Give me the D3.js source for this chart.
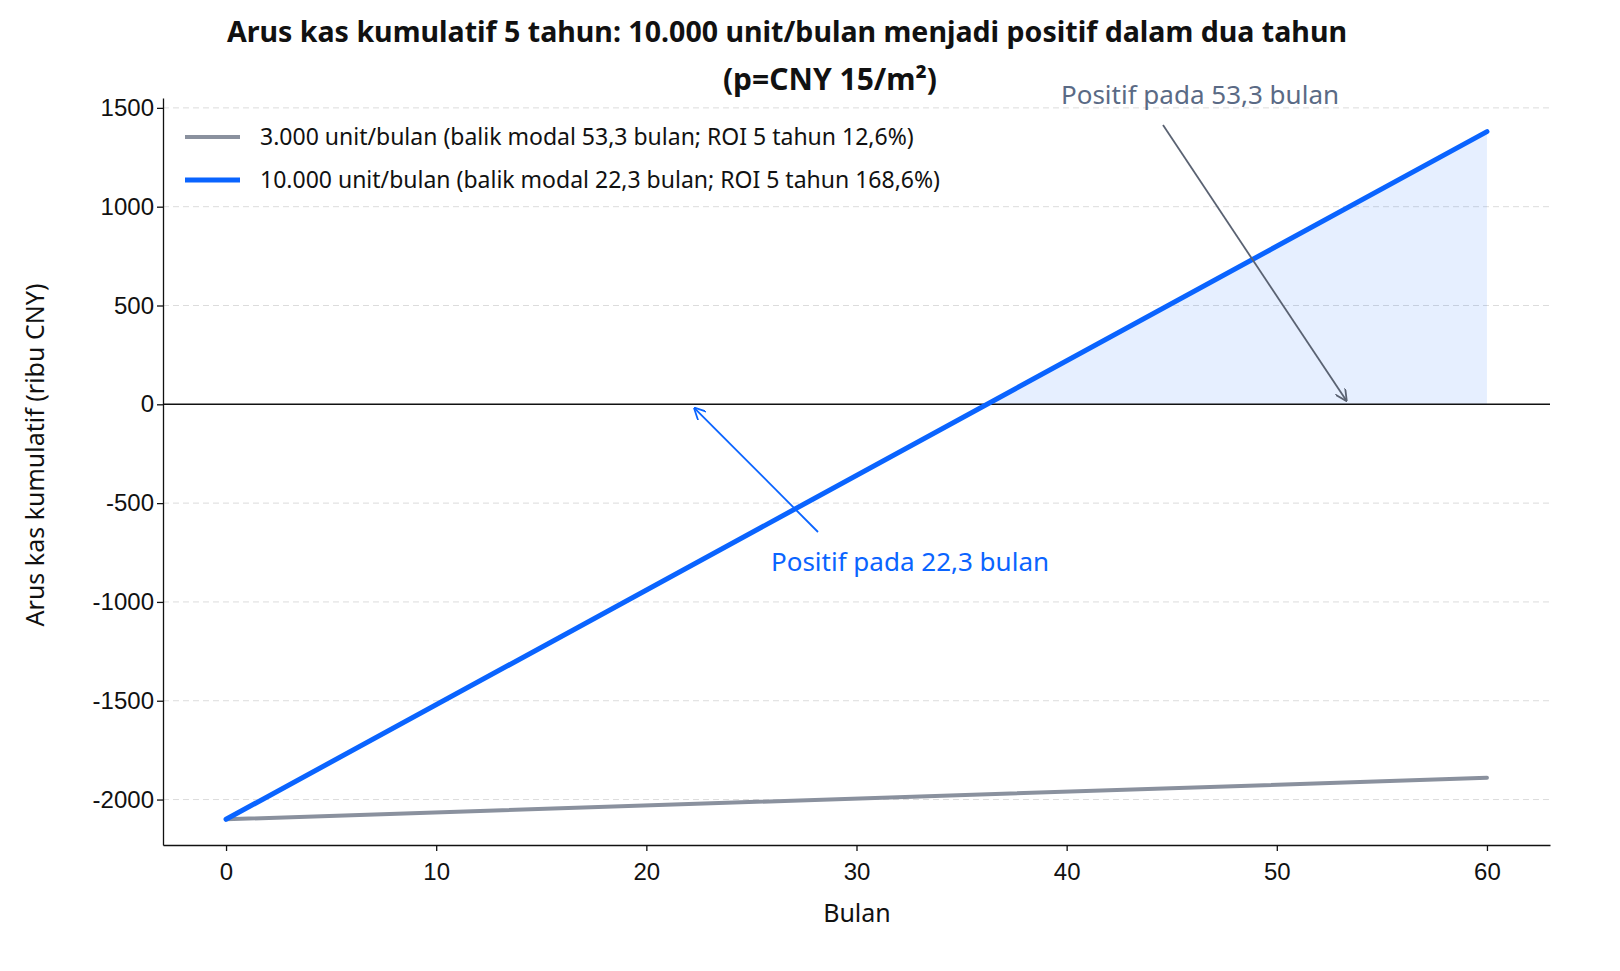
<!DOCTYPE html>
<html><head><meta charset="utf-8">
<script src="https://cdn.jsdelivr.net/npm/d3@7/dist/d3.min.js"></script>
<style>body{margin:0;background:#fff}svg{font-family:"Noto Sans","Open Sans",sans-serif}</style>
</head><body><svg id="c" width="1620" height="971"></svg>
<script>
const months = [0, 60];
const series3000 = [-2100, -1890];
const series10000 = [-2100, 1380];
const yTicks = [-2000, -1500, -1000, -500, 0, 500, 1000, 1500];
const xTicks = [0, 10, 20, 30, 40, 50, 60];
const labels = ["3.000 unit/bulan (balik modal 53,3 bulan; ROI 5 tahun 12,6%)", "10.000 unit/bulan (balik modal 22,3 bulan; ROI 5 tahun 168,6%)"];
const colors = ["#8a919e", "#0a64ff"];
const breakEven = [53.3, 22.3];

const svg = d3.select("#c");
const x = d3.scaleLinear().domain([-3, 63]).range([163, 1550]);
const y = d3.scaleLinear().domain([-2230, 1550]).range([845, 98]);

svg.append("g").selectAll("line").data(yTicks.filter(d=>d!==0)).join("line")
  .attr("x1",163).attr("x2",1550).attr("y1",d=>y(d)).attr("y2",d=>y(d))
  .attr("stroke","#dcdcdc").attr("stroke-dasharray","6,4");

const slope = (series10000[1]-series10000[0])/(months[1]-months[0]);
const cross = months[0] - series10000[0]/slope;
const area = [{m:cross,v:0},{m:months[1],v:series10000[1]}];
svg.append("path").datum(area)
  .attr("d", d3.area().x(d=>x(d.m)).y0(y(0)).y1(d=>y(d.v)))
  .attr("fill","#0a64ff").attr("fill-opacity",0.1);

svg.append("line").attr("x1",163).attr("x2",1550).attr("y1",y(0)).attr("y2",y(0)).attr("stroke","#111").attr("stroke-width",1.5);

const fmt = d=>String(d);
const ax = svg.append("g").attr("transform","translate(0,845)").call(d3.axisBottom(x).tickValues(xTicks).tickSize(6).tickSizeOuter(0).tickFormat(fmt));
const ay = svg.append("g").attr("transform","translate(163,0)").call(d3.axisLeft(y).tickValues(yTicks).tickSize(6).tickSizeOuter(0).tickFormat(fmt));
[ax,ay].forEach(a=>{a.selectAll("text").attr("font-size",24).attr("fill","#111");a.selectAll("path,line").attr("stroke","#111").attr("stroke-width",1.3);});
ax.selectAll("text").attr("dy","1.1em");

const line = d3.line().x((d,i)=>x(months[i])).y(d=>y(d));
[series3000, series10000].forEach((s,i)=>svg.append("path").datum(s).attr("d",line)
  .attr("fill","none").attr("stroke",colors[i]).attr("stroke-width",i?5:4).attr("stroke-linecap","round"));

const defs = svg.append("defs");
colors.forEach((c,i)=>defs.append("marker").attr("id","a"+i).attr("viewBox","0 0 10 10").attr("refX",9).attr("refY",5)
  .attr("markerWidth",12).attr("markerHeight",12).attr("markerUnits","userSpaceOnUse").attr("orient","auto")
  .append("path").attr("d","M0,0 L10,5 L0,10").attr("fill","none").attr("stroke",i?c:"#5a6272").attr("stroke-width",1.5));
svg.append("line").attr("x1",1163).attr("y1",125).attr("x2",x(breakEven[0])).attr("y2",y(0)-4)
  .attr("stroke","#5a6272").attr("stroke-width",1.8).attr("marker-end","url(#a0)");
svg.append("text").attr("x",1200).attr("y",104).attr("text-anchor","middle").attr("font-size",26).attr("fill","#5a6a85").text("Positif pada 53,3 bulan");
svg.append("line").attr("x1",818).attr("y1",532).attr("x2",x(breakEven[1])).attr("y2",y(0)+4)
  .attr("stroke","#0a64ff").attr("stroke-width",1.8).attr("marker-end","url(#a1)");
svg.append("text").attr("x",910).attr("y",571).attr("text-anchor","middle").attr("font-size",26).attr("fill","#0a64ff").text("Positif pada 22,3 bulan");

labels.forEach((l,i)=>{
  const yy = 137 + i*43;
  svg.append("line").attr("x1",185).attr("x2",240).attr("y1",yy).attr("y2",yy).attr("stroke",colors[i]).attr("stroke-width",i?5:4);
  svg.append("text").attr("x",260).attr("y",yy+8).attr("font-size",23).attr("fill","#111").text(l);
});

svg.append("text").attr("x",787).attr("y",42).attr("text-anchor","middle").attr("font-size",29).attr("font-weight","bold")
  .attr("textLength",1120).attr("lengthAdjust","spacingAndGlyphs")
  .attr("fill","#111").text("Arus kas kumulatif 5 tahun: 10.000 unit/bulan menjadi positif dalam dua tahun");
svg.append("text").attr("x",830).attr("y",90).attr("text-anchor","middle").attr("font-size",30).attr("font-weight","bold").attr("fill","#111").text("(p=CNY 15/m²)");
svg.append("text").attr("x",857).attr("y",922).attr("text-anchor","middle").attr("font-size",25).attr("fill","#111").text("Bulan");
svg.append("text").attr("transform","translate(44,455) rotate(-90)").attr("text-anchor","middle").attr("font-size",25).attr("fill","#111").text("Arus kas kumulatif (ribu CNY)");
</script></body></html>
